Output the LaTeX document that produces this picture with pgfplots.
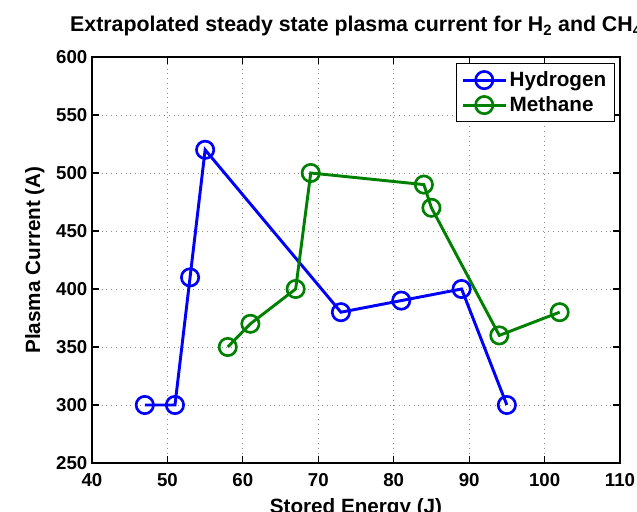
\documentclass[border=0pt]{standalone}
\usepackage{pgfplots}
\pgfplotsset{compat=1.18}
\usepackage{fontspec}
\setmainfont{Liberation Sans}
\definecolor{mblue}{RGB}{0,0,255}
\definecolor{mgreen}{RGB}{0,128,0}
\begin{document}
\begin{tikzpicture}[x=1pt,y=1pt]
\begin{axis}[
  name=ax,
  scale only axis,
  width=396pt, height=304.5pt,
  xmin=40, xmax=110, ymin=250, ymax=600,
  xtick={40,50,...,110}, ytick={250,300,...,600},
  tick align=inside,
  axis line style={line width=1.2pt},
  major tick length=5pt,
  every tick/.style={line width=0.8pt,black},
  xmajorgrids, ymajorgrids,
  grid style={dash pattern=on 0.6pt off 3pt, gray!90, line width=0.6pt},
  /pgf/number format/assume math mode=true,
  ticklabel style={font=\fontsize{14}{16}\selectfont\bfseries},
  xticklabel style={yshift=-4.5pt},
  label style={font=\fontsize{15.5}{17}\selectfont\bfseries},
  title style={font=\fontsize{16}{18}\selectfont\bfseries, yshift=6pt},
  title={Extrapolated steady state plasma current for H$_{\mathbf 2}$ and CH$_{\mathbf 4}$},
  xlabel={Stored Energy (J)},
  ylabel={Plasma Current (A)},
  xlabel style={yshift=-2pt},
  ylabel style={yshift=2pt},
  legend style={at={(0.99,0.985)}, anchor=north east, font=\fontsize{15.5}{17}\selectfont\bfseries, line width=0.8pt, inner xsep=4pt, inner ysep=4pt, row sep=2pt},
  legend cell align=left,
  legend image code/.code={%
    \draw[mark repeat=2, mark phase=2, #1] plot coordinates {(0pt,0pt) (16pt,0pt) (32pt,0pt)};},
  clip=false,
]
\addplot[mblue, line width=2.2pt, mark=o, mark size=6.5pt, mark options={line width=2pt}] coordinates {
  (47,300) (51,300) (53,410) (55,520) (73,380) (81,390) (89,400) (95,300)
};
\addlegendentry{Hydrogen}
\addplot[mgreen, line width=2.2pt, mark=o, mark size=6.5pt, mark options={line width=2pt}] coordinates {
  (58,350) (61,370) (67,400) (69,500) (84,490) (85,470) (94,360) (102,380)
};
\addlegendentry{Methane}
\coordinate (sw) at (rel axis cs:0,0);
\coordinate (ne) at (rel axis cs:1,1);
\end{axis}
\pgfresetboundingbox
\path[use as bounding box] ([xshift=-69pt,yshift=-36.75pt]sw) rectangle ([xshift=12.75pt,yshift=42.75pt]ne);
\end{tikzpicture}
\end{document}
